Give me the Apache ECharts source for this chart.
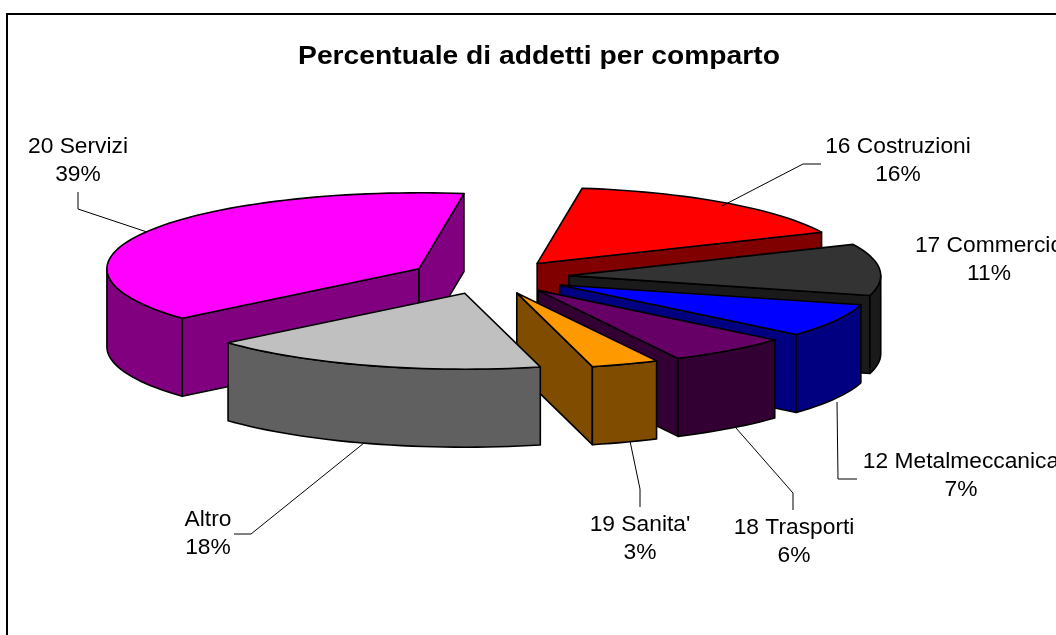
<!DOCTYPE html>
<html>
<head>
<meta charset="utf-8">
<title>Percentuale di addetti per comparto</title>
<style>
  html, body { margin: 0; padding: 0; background: #fff; }
  #chart { width: 1056px; height: 635px; }
</style>
<script src="https://cdn.jsdelivr.net/npm/echarts@6/dist/echarts.min.js"></script>
</head>
<body>
<div id="chart"></div>
<script>
// slices, clockwise from the back of the pie
var categories = ['16 Costruzioni', '17 Commercio', '12 Metalmeccanica', '18 Trasporti', "19 Sanita'", 'Altro', '20 Servizi'];
// printed on the labels
var percentLabels = [16, 11, 7, 6, 3, 18, 39];
// slice sizes as they measure on the drawing, the 3D view distorts them a little
var sliceShares = [15.95, 10.95, 7.1, 6.3, 3.5, 17.6, 38.6];

var topColors = ['#ff0000', '#333333', '#0000ff', '#660066', '#ff9900', '#c0c0c0', '#ff00ff'];
var sideColors = ['#800000', '#1a1a1a', '#000080', '#330033', '#804d00', '#606060', '#800080'];

// label anchors and leader lines, same order as categories
var labelCenters = [[898, 161], [989, 260], [961, 476], [794, 542], [640, 539], [208, 534], [78, 161]];
var leaders = [
  [[722, 206], [803, 164], [821, 164]],
  null,
  [[837, 402], [838, 479], [857, 479]],
  [[736, 428], [793, 493], [793, 510]],
  [[630, 441], [640, 489], [640, 507]],
  [[364, 443], [251, 534], [234, 534]],
  [[147, 232], [78, 209], [78, 192]]
];

// projection of the tilted pie
var centerX = 489, centerY = 277;
var radiusX = 312, radiusY = 76;
var depth = 78;
var explodeX = 80, explodeY = 17;
var startAngle = 8.3;

var labelFont = '21.5px "Liberation Sans", Arial, sans-serif';
var titleFont = 'bold 25px "Liberation Sans", Arial, sans-serif';

var total = sliceShares.reduce(function (a, b) { return a + b; }, 0);
var slices = [];
var cum = 0;
sliceShares.forEach(function (v) {
  var from = startAngle + cum / total * 360;
  cum += v;
  slices.push({ from: from, to: startAngle + cum / total * 360 });
});

function rad(a) { return a * Math.PI / 180; }

// back slices get painted first
var paintOrder = slices.map(function (s, i) { return i; }).sort(function (a, b) {
  var ma = (slices[a].from + slices[a].to) / 2, mb = (slices[b].from + slices[b].to) / 2;
  return Math.cos(rad(mb)) - Math.cos(rad(ma));
});

function arcPoints(ax, ay, from, to) {
  var pts = [];
  var n = Math.max(2, Math.ceil((to - from) / 2));
  for (var k = 0; k <= n; k++) {
    var a = rad(from + (to - from) * k / n);
    pts.push([ax + radiusX * Math.sin(a), ay - radiusY * Math.cos(a)]);
  }
  return pts;
}

function poly(points, fill, z2) {
  return {
    type: 'polygon',
    z2: z2,
    shape: { points: points },
    style: { fill: fill, stroke: '#000', lineWidth: 1.6, lineJoin: 'round' }
  };
}

function wall(ax, ay, rim, fill, z2) {
  return poly([[ax, ay], rim, [rim[0], rim[1] + depth], [ax, ay + depth]], fill, z2);
}

function renderSlice(params, api) {
  var i = params.dataIndex;
  var s = slices[i];
  var mid = rad((s.from + s.to) / 2);
  var ax = centerX + explodeX * Math.sin(mid);
  var ay = centerY - explodeY * Math.cos(mid);
  var z = paintOrder.indexOf(i) * 10 + 1;
  var rim = arcPoints(ax, ay, s.from, s.to);
  var children = [];

  // radial walls only show when they face the viewer
  if (Math.sin(rad(s.from)) < 0) children.push(wall(ax, ay, rim[0], sideColors[i], z));
  if (Math.sin(rad(s.to)) > 0) children.push(wall(ax, ay, rim[rim.length - 1], sideColors[i], z));

  // outer wall, front half of the rim only
  var f = Math.max(s.from, 90), t = Math.min(s.to, 270);
  if (t > f) {
    var upper = arcPoints(ax, ay, f, t);
    var lower = upper.map(function (p) { return [p[0], p[1] + depth]; }).reverse();
    children.push(poly(upper.concat(lower), sideColors[i], z + 1));
  }

  children.push(poly([[ax, ay]].concat(rim), topColors[i], z + 2));

  if (leaders[i]) {
    children.push({
      type: 'polyline',
      z2: 200,
      shape: { points: leaders[i] },
      style: { fill: null, stroke: '#000', lineWidth: 1 }
    });
  }
  // the original text is a bit stretched sideways
  children.push({
    type: 'text',
    z2: 201,
    x: labelCenters[i][0],
    y: labelCenters[i][1],
    scaleX: 1.06,
    style: {
      text: categories[i] + '\n' + percentLabels[i] + '%',
      fill: '#000',
      font: labelFont,
      lineHeight: 28,
      align: 'center',
      verticalAlign: 'middle'
    }
  });
  return { type: 'group', children: children };
}

var chart = echarts.init(document.getElementById('chart'));
chart.setOption({
  animation: false,
  backgroundColor: '#fff',
  graphic: [{
    type: 'rect',
    silent: true,
    shape: { x: 7, y: 14, width: 1100, height: 700 },
    style: { fill: null, stroke: '#000', lineWidth: 2 }
  }, {
    type: 'text',
    silent: true,
    x: 539,
    y: 57,
    scaleX: 1.13,
    style: {
      text: 'Percentuale di addetti per comparto',
      fill: '#000',
      font: titleFont,
      align: 'center',
      verticalAlign: 'middle'
    }
  }],
  series: [{
    type: 'custom',
    coordinateSystem: 'none',
    renderItem: renderSlice,
    data: sliceShares.map(function (v) { return [v]; })
  }]
});
</script>
</body>
</html>
